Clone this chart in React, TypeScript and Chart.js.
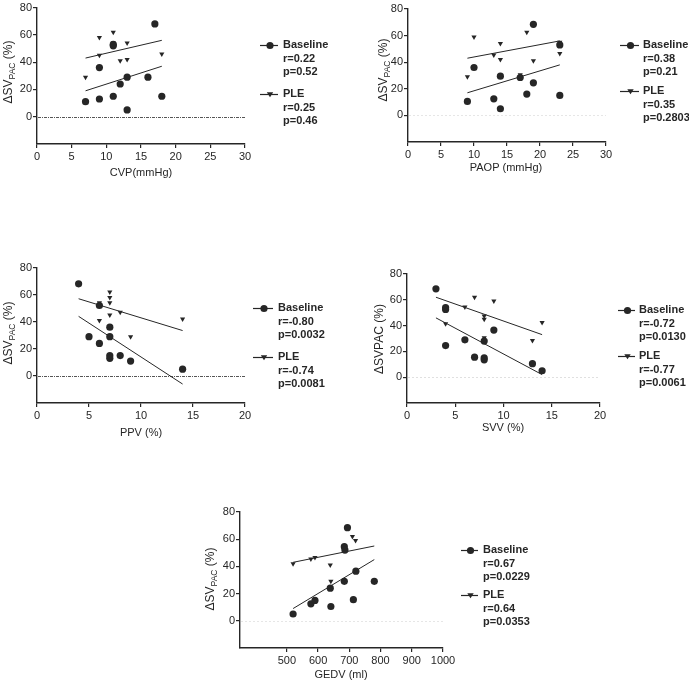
import React, { useEffect, useRef } from "react";
import { Chart, registerables } from "chart.js";
Chart.register(...registerables);

const FONT = "'Liberation Sans', Arial, Helvetica, sans-serif";
const INK = "#262626";

// ---------- data ----------
const cvpBaseX = [7, 9, 9, 11, 11, 11, 12, 13, 13, 16, 17, 18];
const cvpBaseY = [11, 13, 36, 52, 53, 15, 24, 29, 5, 29, 68, 15];
const cvpPleX = [7, 9, 9, 11, 11, 12, 13, 13, 18];
const cvpPleY = [29, 58, 45, 62, 54, 41, 54, 42, 46];
const cvpFitX = [7, 18];
const cvpBaseFit = [19, 37];
const cvpPleFit = [43, 56];

const paopBaseX = [9, 10, 13, 14, 14, 17, 18, 19, 19, 23, 23];
const paopBaseY = [10.5, 36, 12.5, 29.5, 5, 28.5, 16, 68.5, 24.5, 53, 15];
const paopPleX = [9, 10, 13, 14, 14, 17, 18, 19, 23, 23];
const paopPleY = [29, 59, 45.5, 54, 42, 30.5, 62.5, 41, 46.5, 55];
const paopFitX = [9, 23];
const paopBaseFit = [17, 38];
const paopPleFit = [43, 56];

const ppvBaseX = [4, 5, 6, 6, 7, 7, 7, 7, 8, 9, 14];
const ppvBaseY = [68, 29, 52, 24, 36, 29, 15, 13, 15, 11, 5];
const ppvPleX = [6, 6, 7, 7, 7, 7, 8, 9, 14];
const ppvPleY = [41, 54, 62, 58, 54, 45, 47, 29, 42];
const ppvFitX = [4, 14];
const ppvBaseFit = [44, -6];
const ppvPleFit = [57, 33.5];

const svvBaseX = [3, 4, 4, 4, 6, 7, 8, 8, 8, 9, 13, 14];
const svvBaseY = [68.5, 52.5, 54, 24.5, 29, 15.5, 28, 13.5, 15, 36.5, 10.5, 5];
const svvPleX = [4, 6, 7, 8, 8, 8, 9, 13, 14];
const svvPleY = [41.5, 54.5, 62, 47.5, 45, 30.5, 59, 28.5, 42.5];
const svvFitX = [3, 14];
const svvBaseFit = [46, 2];
const svvPleFit = [62, 33];

const gedvBaseX = [520, 577, 590, 639, 641, 684, 684, 686, 694, 713, 721, 780];
const gedvBaseY = [5, 12.5, 15, 24, 10.5, 29, 54.5, 52, 68.5, 15.5, 36.5, 29];
const gedvPleX = [520, 577, 590, 639, 641, 684, 710, 720];
const gedvPleY = [42, 45.5, 46.5, 41, 29, 55, 62, 59];
const gedvFitX = [520, 780];
const gedvBaseFit = [9, 45];
const gedvPleFit = [43, 55];

const yTickValues = [0, 20, 40, 60, 80];
const mmHgTicks = [0, 5, 10, 15, 20, 25, 30];
const pctTicks = [0, 5, 10, 15, 20];
const gedvTicks = [500, 600, 700, 800, 900, 1000];

const seriesNames = ["Baseline", "PLE"];
const cvpStats = [["r=0.22", "p=0.52"], ["r=0.25", "p=0.46"]];
const paopStats = [["r=0.38", "p=0.21"], ["r=0.35", "p=0.2803"]];
const ppvStats = [["r=-0.80", "p=0.0032"], ["r=-0.74", "p=0.0081"]];
const svvStats = [["r=-0.72", "p=0.0130"], ["r=-0.77", "p=0.0061"]];
const gedvStats = [["r=0.67", "p=0.0229"], ["r=0.64", "p=0.0353"]];

// ---------- helpers ----------
const pts = (xs: number[], ys: number[]) => xs.map((x, i) => ({ x, y: ys[i] }));

type Cfg = {
  left: number; top: number; w: number; h: number;
  area: { l: number; t: number; r: number; b: number };
  xMin: number; xMax: number; xTicks: number[];
  baseX: number[]; baseY: number[]; pleX: number[]; pleY: number[];
  fitX: number[]; baseFit: number[]; pleFit: number[];
  stats: string[][];
  xTitle: string; xTitlePos: [number, number];
  yTitleSub: boolean; yTitlePos: [number, number];
  legend: { lx1: number; lx2: number; tx: number; ys: [number, number] };
  zeroColor: string; zeroDash: number[];
};

const XH = 20;

function drawMarker(ctx: CanvasRenderingContext2D, kind: number, x: number, y: number) {
  ctx.fillStyle = INK;
  ctx.beginPath();
  if (kind === 0) {
    ctx.arc(x, y, 3.6, 0, Math.PI * 2);
  } else {
    ctx.moveTo(x - 3.2, y - 2.2);
    ctx.lineTo(x + 3.2, y - 2.2);
    ctx.lineTo(x, y + 2.8);
    ctx.closePath();
  }
  ctx.fill();
}

function drawYTitle(ctx: CanvasRenderingContext2D, cx: number, cy: number, sub: boolean) {
  const big = `12px ${FONT}`;
  const small = `8.5px ${FONT}`;
  const parts = sub
    ? [{ t: "ΔSV", f: big, dy: 0 }, { t: "PAC", f: small, dy: 3 }, { t: " (%)", f: big, dy: 0 }]
    : [{ t: "ΔSVPAC (%)", f: big, dy: 0 }];
  ctx.save();
  ctx.translate(cx, cy);
  ctx.rotate(-Math.PI / 2);
  ctx.fillStyle = INK;
  ctx.textBaseline = "alphabetic";
  ctx.textAlign = "left";
  let total = 0;
  for (const p of parts) { ctx.font = p.f; total += ctx.measureText(p.t).width; }
  let x = -total / 2;
  for (const p of parts) {
    ctx.font = p.f;
    ctx.fillText(p.t, x, 4 + p.dy);
    x += ctx.measureText(p.t).width;
  }
  ctx.restore();
}

function Panel({ cfg }: { cfg: Cfg }) {
  const ref = useRef<HTMLCanvasElement>(null);
  useEffect(() => {
    if (!ref.current) return;
    const overlay = {
      id: "overlay",
      beforeDatasetsDraw(chart: any) {
        const ctx = chart.ctx as CanvasRenderingContext2D;
        const y0 = chart.scales.y.getPixelForValue(0);
        const { left, right } = chart.chartArea;
        ctx.save();
        ctx.strokeStyle = cfg.zeroColor;
        ctx.lineWidth = 1;
        ctx.setLineDash(cfg.zeroDash);
        ctx.beginPath();
        ctx.moveTo(left + 1, Math.round(y0) + 0.5);
        ctx.lineTo(right, Math.round(y0) + 0.5);
        ctx.stroke();
        ctx.restore();
      },
      afterDraw(chart: any) {
        const ctx = chart.ctx as CanvasRenderingContext2D;
        ctx.save();
        ctx.font = `11px ${FONT}`;
        ctx.fillStyle = INK;
        ctx.textAlign = "center";
        ctx.textBaseline = "middle";
        ctx.fillText(cfg.xTitle, cfg.xTitlePos[0], cfg.xTitlePos[1]);
        drawYTitle(ctx, cfg.yTitlePos[0], cfg.yTitlePos[1], cfg.yTitleSub);
        const L = cfg.legend;
        for (let k = 0; k < 2; k++) {
          const y = L.ys[k];
          ctx.strokeStyle = INK;
          ctx.lineWidth = 1.2;
          ctx.beginPath();
          ctx.moveTo(L.lx1, y + 0.5);
          ctx.lineTo(L.lx2, y + 0.5);
          ctx.stroke();
          drawMarker(ctx, k, (L.lx1 + L.lx2) / 2 + 1, y + 0.5);
          ctx.font = `bold 11px ${FONT}`;
          ctx.fillStyle = INK;
          ctx.textAlign = "left";
          ctx.textBaseline = "middle";
          const lines = [seriesNames[k], ...cfg.stats[k]];
          lines.forEach((t, i) => ctx.fillText(t, L.tx, y + i * 13.5));
        }
        ctx.restore();
      },
    };
    const axisCommon = {
      grid: { drawOnChartArea: false, drawTicks: true, tickLength: 4, color: INK, lineWidth: 1.2 },
      border: { display: true, color: INK, width: 1.4 },
      ticks: {
        font: { family: FONT, size: 11 }, color: INK, autoSkip: false, maxRotation: 0,
        callback: (v: any) => String(v),
      },
    };
    const chart = new Chart(ref.current, {
      type: "scatter",
      data: {
        datasets: [
          {
            data: pts(cfg.baseX, cfg.baseY),
            pointStyle: "circle", pointRadius: 3.6,
            backgroundColor: INK, borderColor: INK, borderWidth: 0,
          },
          {
            data: pts(cfg.pleX, cfg.pleY),
            pointStyle: "triangle", pointRadius: 3, rotation: 180,
            backgroundColor: INK, borderColor: INK, borderWidth: 0,
          },
          {
            data: pts(cfg.fitX, cfg.baseFit), showLine: true, pointRadius: 0,
            borderColor: INK, borderWidth: 1, backgroundColor: INK,
          },
          {
            data: pts(cfg.fitX, cfg.pleFit), showLine: true, pointRadius: 0,
            borderColor: INK, borderWidth: 1, backgroundColor: INK,
          },
        ],
      } as any,
      options: {
        responsive: false,
        animation: false,
        devicePixelRatio: 1,
        layout: {
          padding: {
            left: 0,
            top: cfg.area.t,
            right: cfg.w - cfg.area.r,
            bottom: cfg.h - cfg.area.b - XH,
          },
        },
        plugins: { legend: { display: false }, tooltip: { enabled: false } },
        scales: {
          x: {
            type: "linear",
            min: cfg.xMin,
            max: cfg.xMax,
            afterBuildTicks: (s: any) => { s.ticks = cfg.xTicks.map((v) => ({ value: v })); },
            afterFit: (s: any) => { s.height = XH; },
            ...axisCommon,
            ticks: { ...axisCommon.ticks, padding: 2 },
          },
          y: {
            type: "linear",
            min: -20,
            max: 80,
            afterBuildTicks: (s: any) => { s.ticks = yTickValues.map((v) => ({ value: v })); },
            afterFit: (s: any) => { s.width = cfg.area.l; },
            ...axisCommon,
            ticks: { ...axisCommon.ticks, padding: 1 },
          },
        },
      } as any,
      plugins: [overlay],
    });
    return () => chart.destroy();
  }, [cfg]);
  return (
    <canvas
      ref={ref}
      width={cfg.w}
      height={cfg.h}
      style={{ position: "absolute", left: cfg.left, top: cfg.top, width: cfg.w, height: cfg.h }}
    />
  );
}

const panels: Cfg[] = [
  {
    left: 0, top: 0, w: 345, h: 200,
    area: { l: 37, t: 5, r: 245, b: 144 },
    xMin: 0, xMax: 30, xTicks: mmHgTicks,
    baseX: cvpBaseX, baseY: cvpBaseY, pleX: cvpPleX, pleY: cvpPleY,
    fitX: cvpFitX, baseFit: cvpBaseFit, pleFit: cvpPleFit, stats: cvpStats,
    xTitle: "CVP(mmHg)", xTitlePos: [141, 173],
    yTitleSub: true, yTitlePos: [8, 72],
    legend: { lx1: 260, lx2: 278, tx: 283, ys: [45, 94] },
    zeroColor: "#555", zeroDash: [3, 1, 1, 1],
  },
  {
    left: 345, top: 0, w: 344, h: 200,
    area: { l: 63, t: 9, r: 261, b: 142 },
    xMin: 0, xMax: 30, xTicks: mmHgTicks,
    baseX: paopBaseX, baseY: paopBaseY, pleX: paopPleX, pleY: paopPleY,
    fitX: paopFitX, baseFit: paopBaseFit, pleFit: paopPleFit, stats: paopStats,
    xTitle: "PAOP (mmHg)", xTitlePos: [161, 168],
    yTitleSub: true, yTitlePos: [38, 70],
    legend: { lx1: 275, lx2: 294, tx: 298, ys: [45, 91] },
    zeroColor: "#e6e6e6", zeroDash: [2, 2],
  },
  {
    left: 0, top: 260, w: 345, h: 200,
    area: { l: 37, t: 3, r: 245, b: 143 },
    xMin: 0, xMax: 20, xTicks: pctTicks,
    baseX: ppvBaseX, baseY: ppvBaseY, pleX: ppvPleX, pleY: ppvPleY,
    fitX: ppvFitX, baseFit: ppvBaseFit, pleFit: ppvPleFit, stats: ppvStats,
    xTitle: "PPV (%)", xTitlePos: [141, 173],
    yTitleSub: true, yTitlePos: [8, 73],
    legend: { lx1: 253, lx2: 273, tx: 278, ys: [48, 97] },
    zeroColor: "#555", zeroDash: [3, 1, 1, 1],
  },
  {
    left: 345, top: 260, w: 344, h: 200,
    area: { l: 62, t: 14, r: 255, b: 143 },
    xMin: 0, xMax: 20, xTicks: pctTicks,
    baseX: svvBaseX, baseY: svvBaseY, pleX: svvPleX, pleY: svvPleY,
    fitX: svvFitX, baseFit: svvBaseFit, pleFit: svvPleFit, stats: svvStats,
    xTitle: "SVV (%)", xTitlePos: [158, 168],
    yTitleSub: false, yTitlePos: [34, 79],
    legend: { lx1: 273, lx2: 290, tx: 294, ys: [50, 96] },
    zeroColor: "#e0e0e0", zeroDash: [2, 2],
  },
  {
    left: 170, top: 480, w: 420, h: 201,
    area: { l: 70, t: 32, r: 273, b: 168 },
    xMin: 350, xMax: 1000, xTicks: gedvTicks,
    baseX: gedvBaseX, baseY: gedvBaseY, pleX: gedvPleX, pleY: gedvPleY,
    fitX: gedvFitX, baseFit: gedvBaseFit, pleFit: gedvPleFit, stats: gedvStats,
    xTitle: "GEDV (ml)", xTitlePos: [171, 195],
    yTitleSub: true, yTitlePos: [40, 99],
    legend: { lx1: 291, lx2: 308, tx: 313, ys: [70, 115] },
    zeroColor: "#e6e6e6", zeroDash: [2, 2],
  },
];

export default function App() {
  return (
    <div style={{ position: "absolute", left: 0, top: 0, width: 689, height: 681, background: "#fff", overflow: "hidden" }}>
      {panels.map((p, i) => (
        <Panel key={i} cfg={p} />
      ))}
    </div>
  );
}
